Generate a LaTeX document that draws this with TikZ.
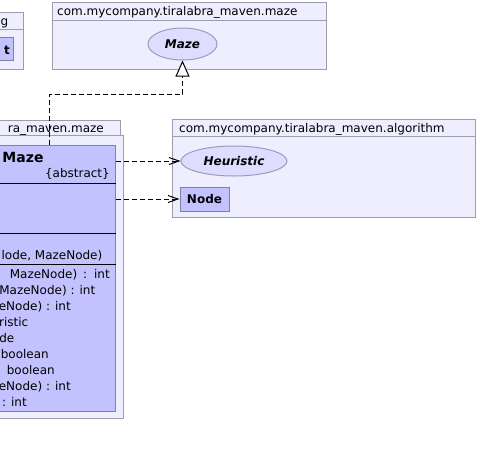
\documentclass[tikz,border=0pt]{standalone}
\usepackage{fontspec}
\setmainfont{DejaVu Sans}
\usetikzlibrary{arrows.meta, shapes.geometric}

\definecolor{pkgfill}{RGB}{238,238,255}
\definecolor{pkgline}{RGB}{156,156,172}
\definecolor{clsfill}{RGB}{194,194,255}
\definecolor{clsline}{RGB}{128,128,160}
\definecolor{iffill}{RGB}{221,221,255}
\definecolor{ifline}{RGB}{156,156,186}

\tikzset{
  pkg/.style={draw=pkgline, fill=pkgfill, line width=1pt},
  pkgrule/.style={draw=pkgline, line width=1pt},
  pkglabel/.style={inner sep=0pt, font=\fontsize{12}{14}\selectfont},
  cls/.style={draw=clsline, fill=clsfill, line width=1pt, inner sep=0pt,
    font=\fontsize{12}{14}\selectfont\bfseries},
  iface/.style={ellipse, draw=ifline, fill=iffill, line width=1pt, inner sep=0pt,
    font=\fontsize{12}{14}\selectfont\bfseries\itshape},
  member/.style={inner sep=0pt, anchor=base east, font=\fontsize{12}{14}\selectfont},
  dep/.style={dash pattern=on 5pt off 3pt, line width=1pt,
    -{Straight Barb[length=10pt,width=7pt]}},
  realize/.style={draw, dash pattern=on 5pt off 3pt, line width=1pt,
    -{Triangle[open, length=16pt, width=14pt, fill=white]}},
}

\begin{document}
\begin{tikzpicture}[x=1pt, y=-1pt]
  \useasboundingbox (0,0) rectangle (478,456);

  %define the packages
  \path[pkg] (-60,12) rectangle (23,69);
  \path[pkgrule] (-60,29) -- (23,29);
  \path[pkg] (52,2) rectangle (326,69);
  \path[pkgrule] (52,20) -- (326,20);
  \path[pkg] (-60,135) rectangle (123,418);
  \path[pkg] (-60,120) rectangle (120,135);
  \path[pkg] (172,119) rectangle (475,217);
  \path[pkgrule] (172,136) -- (475,136);

  \node[pkglabel, anchor=base east] (toplbl) at (8.5,25) {g};
  \node[pkglabel, anchor=base west] (mazelbl) at (57,15) {com.mycompany.tiralabra\_maven.maze};
  \node[pkglabel, anchor=base east] (mainlbl) at (104,132) {ra\_maven.maze};
  \node[pkglabel, anchor=base west] (alglbl) at (179,132) {com.mycompany.tiralabra\_maven.algorithm};

  %define the classes and interfaces
  \node[cls, minimum width=43pt, minimum height=23pt] (tcls) at (-8.5,48.5) {};
  \node[member, font=\fontsize{12}{14}\selectfont\bfseries] (tname) at (10,54) {t};

  \node[iface, minimum width=69pt, minimum height=32pt] (mazeif) at (182.5,44) {Maze};
  \node[iface, minimum width=106pt, minimum height=30pt] (heur) at (234,161) {Heuristic};
  \node[cls, minimum width=49pt, minimum height=24pt] (node) at (204.5,199) {Node};

  \node[cls, minimum width=184pt, minimum height=266pt] (maze) at (23,278) {};
  \node[inner sep=0pt, anchor=base, font=\fontsize{14}{16}\selectfont\bfseries]
    (mazename) at (23,162) {Maze};
  \node[member] (abstract) at (110,177) {\{abstract\}};

  %define the compartments
  \coordinate (sep1) at (0,183);
  \coordinate (sep2) at (0,233);
  \coordinate (sep3) at (0,264);
  \draw[line width=1pt] (maze.west |- sep1) -- (maze.east |- sep1);
  \draw[line width=1pt] (maze.west |- sep2) -- (maze.east |- sep2);
  \draw[line width=1pt] (maze.west |- sep3) -- (maze.east |- sep3);

  \node[member] (ctor) at (102.5,259) {lode, MazeNode)};
  \node[member] (op1) at (110,278) {MazeNode)\, :\, int};
  \node[member] (op2) at (95.5,294) {MazeNode) : int};
  \node[member] (op3) at (71,310) {eNode) : int};
  \node[member] (op4) at (28.5,326) {ristic};
  \node[member] (op5) at (14.5,342) {de};
  \node[member] (op6) at (49,358) {boolean};
  \node[member] (op7) at (55,374) {boolean};
  \node[member] (op8) at (71,390) {eNode) : int};
  \node[member] (op9) at (27,406) {: int};

  %define the links
  \coordinate (bend) at (49,94);
  \draw[realize] (maze.north -| bend) -- (bend) -| (mazeif.south);
  \path[dep] (maze.east |- heur) edge (heur)
             (maze.east |- node) edge (node);
\end{tikzpicture}
\end{document}
